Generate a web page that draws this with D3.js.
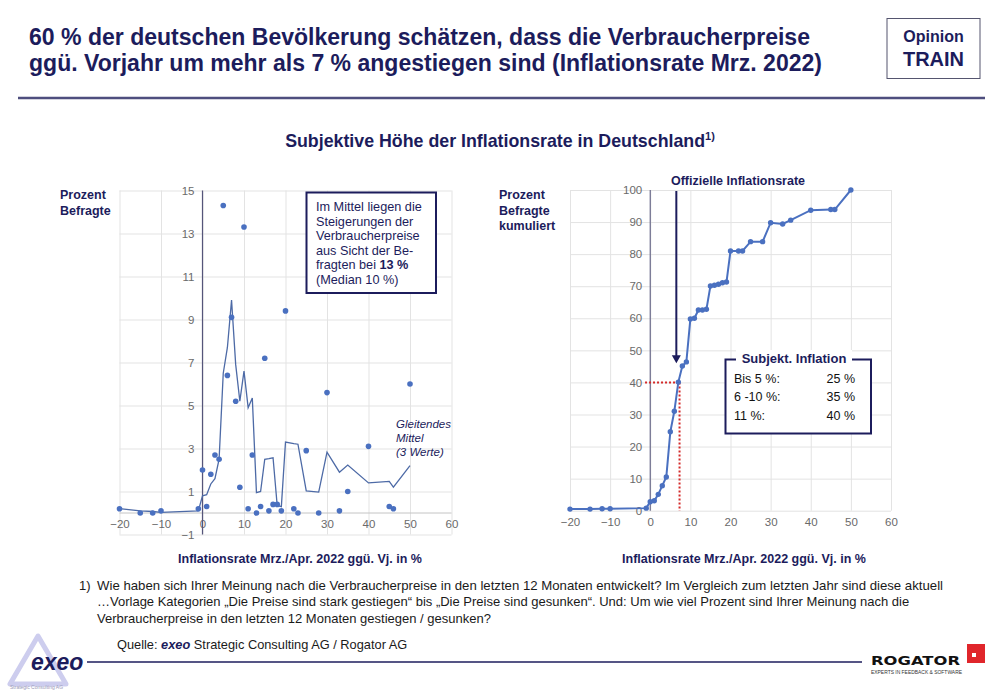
<!DOCTYPE html>
<html><head><meta charset="utf-8">
<script src="https://cdn.jsdelivr.net/npm/d3@7"></script>
<style>
html,body{margin:0;padding:0;background:#fff;}
svg{display:block;font-family:"Liberation Sans",Arial,sans-serif;}
</style></head>
<body>
<svg id="chart" width="1000" height="692"></svg>
<script>
// ---------- data ----------
const inflationX = [-20,-15,-12,-10,-1,0,1,2,3,4,5,6,7,8,9,10,11,12,13,14,15,16,17,18,19,20,22,23,25,28,30,33,35,40,45,46,50];
const shareRespondents = [0.2,0,0,0.1,0.2,2.0,0.3,1.8,2.7,2.5,14.3,6.4,9.1,5.2,1.2,13.3,0.2,2.7,0,0.3,7.2,0.1,0.4,0.4,0.1,9.4,0.2,0,2.9,0,5.6,0.1,1.0,3.1,0.3,0.2,6.0];
const movingAverage = [0.2,0.1,0.07,0.03,0.1,0.8,0.85,1.35,1.6,2.5,6.5,7.7,9.9,6.9,5.2,6.6,4.9,5.35,0.95,1.0,2.5,2.53,2.57,0.35,0.3,3.3,3.23,3.2,1.03,0.97,2.83,1.9,2.23,1.4,1.47,1.2,2.2];
const cumulativeShare = [0.5,0.5,0.6,0.6,0.8,2.8,3.1,5.1,7.8,10.5,24.6,31,40.1,45.1,46.4,59.8,60,62.6,62.6,62.8,70.1,70.3,70.6,71.1,71.3,81,81,81,83.9,83.9,89.8,89.4,90.6,93.7,93.9,93.9,100];
const xTicks = [-20,-10,0,10,20,30,40,50,60];
const leftYTicks = [-1,1,3,5,7,9,11,13,15];
const rightYTicks = [0,10,20,30,40,50,60,70,80,90,100];
const officialRate = 7.3;
const officialCumulative = 40;
const arrowX = 6.5;
const arrowTipY = 46;
const boxRows = [["Bis 5 %:","25 %"],["6 -10 %:","35 %"],["11 %:","40 %"]];
const leftNote = ["Im Mittel liegen die","Steigerungen der","Verbraucherpreise","aus Sicht der Be-","fragten bei |13 %|","(Median 10 %)"];
const footLines = [
 "Wie haben sich Ihrer Meinung nach die Verbraucherpreise in den letzten 12 Monaten entwickelt? Im Vergleich zum letzten Jahr sind diese aktuell",
 "…Vorlage Kategorien „Die Preise sind stark gestiegen“ bis „Die Preise sind gesunken“. Und: Um wie viel Prozent sind Ihrer Meinung nach die",
 "Verbraucherpreise in den letzten 12 Monaten gestiegen / gesunken?"];

// ---------- setup ----------
const NAVY = "#1c1c5c";
const BLUE = "#4a70c0";
const GRID = "#e3e3e3";
const TICK = "#6a6a6a";
const svg = d3.select("#chart");

// Header
svg.append("text").attr("x",29).attr("y",45).attr("font-size",23).attr("font-weight","bold").attr("fill",NAVY)
  .attr("textLength",781).attr("lengthAdjust","spacingAndGlyphs")
  .text("60 % der deutschen Bevölkerung schätzen, dass die Verbraucherpreise");
svg.append("text").attr("x",29).attr("y",71).attr("font-size",23).attr("font-weight","bold").attr("fill",NAVY)
  .attr("textLength",793).attr("lengthAdjust","spacingAndGlyphs")
  .text("ggü. Vorjahr um mehr als 7 % angestiegen sind (Inflationsrate Mrz. 2022)");
svg.append("rect").attr("x",887).attr("y",18.5).attr("width",93).attr("height",60).attr("fill","none").attr("stroke","#55556f").attr("stroke-width",1);
svg.append("text").attr("x",933.5).attr("y",42).attr("text-anchor","middle").attr("font-size",16).attr("font-weight","bold").attr("fill",NAVY).text("Opinion");
svg.append("text").attr("x",933.5).attr("y",66).attr("text-anchor","middle").attr("font-size",20).attr("font-weight","bold").attr("fill",NAVY).text("TRAIN");
svg.append("line").attr("x1",18).attr("x2",985).attr("y1",98).attr("y2",98).attr("stroke","#4e4e7e").attr("stroke-width",2.5);

const sub = svg.append("text").attr("x",500).attr("y",147).attr("text-anchor","middle").attr("font-size",17.8).attr("font-weight","bold").attr("fill",NAVY);
sub.append("tspan").text("Subjektive Höhe der Inflationsrate in Deutschland");
sub.append("tspan").attr("dy",-7).attr("font-size",11).text("1)");

// ---------- left chart ----------
const xL = d3.scaleLinear().domain([-20,60]).range([119.5,451.5]);
const yL = d3.scaleLinear().domain([-1,15]).range([534.5,190.5]);
const gL = svg.append("g");
gL.append("g").attr("transform",`translate(0,${yL(-1)})`)
  .call(d3.axisBottom(xL).tickValues(xTicks).tickSize(-(yL(-1)-yL(15))).tickFormat(""))
  .call(g=>{g.select(".domain").remove(); g.selectAll("line").attr("stroke",GRID);});
gL.append("g").attr("transform",`translate(${xL(-20)},0)`)
  .call(d3.axisLeft(yL).tickValues(leftYTicks).tickSize(-(xL(60)-xL(-20))).tickFormat(""))
  .call(g=>{g.select(".domain").remove(); g.selectAll("line").attr("stroke",GRID);});
gL.append("line").attr("x1",xL(-20)).attr("x2",xL(60)).attr("y1",yL(0)).attr("y2",yL(0)).attr("stroke","#c4c4c4").attr("stroke-width",1);
gL.append("g").attr("transform",`translate(0,${yL(0)})`)
  .call(d3.axisBottom(xL).tickValues(xTicks).tickSize(0).tickPadding(7))
  .call(g=>{g.select(".domain").remove(); g.selectAll("text").attr("fill",TICK).attr("font-size",11.5).attr("font-family","Liberation Sans, Arial, sans-serif");});
gL.append("line").attr("x1",xL(0)).attr("x2",xL(0)).attr("y1",yL(15)).attr("y2",yL(-1)).attr("stroke","#55557a").attr("stroke-width",1.2);
gL.append("g").attr("transform",`translate(${xL(0)},0)`)
  .call(d3.axisLeft(yL).tickValues(leftYTicks).tickSize(0).tickPadding(8))
  .call(g=>{g.select(".domain").remove(); g.selectAll("text").attr("fill",TICK).attr("font-size",11.5).attr("font-family","Liberation Sans, Arial, sans-serif");});
const lineL = d3.line().x((d,i)=>xL(inflationX[i])).y(d=>yL(d));
gL.append("path").datum(movingAverage).attr("d",lineL).attr("fill","none").attr("stroke","#4d6aa6").attr("stroke-width",1.3);
gL.selectAll("circle.pt").data(shareRespondents).join("circle").attr("class","pt")
  .attr("cx",(d,i)=>xL(inflationX[i])).attr("cy",d=>yL(d)).attr("r",2.8).attr("fill",BLUE);
svg.append("text").attr("x",60).attr("y",199).attr("font-size",12.5).attr("font-weight","bold").attr("fill",NAVY).text("Prozent");
svg.append("text").attr("x",60).attr("y",214.5).attr("font-size",12.5).attr("font-weight","bold").attr("fill",NAVY).text("Befragte");
svg.append("text").attr("x",300).attr("y",563).attr("text-anchor","middle").attr("font-size",12.5).attr("font-weight","bold").attr("fill",NAVY).text("Inflationsrate Mrz./Apr. 2022 ggü. Vj. in %");
gL.append("rect").attr("x",306.5).attr("y",192.5).attr("width",129.5).attr("height",100.5).attr("fill","#fff").attr("stroke",NAVY).attr("stroke-width",2);
leftNote.forEach((s,i)=>{
  const t = gL.append("text").attr("x",316).attr("y",211+i*14.5).attr("font-size",12.7).attr("fill",NAVY);
  s.split("|").forEach((p,j)=>t.append("tspan").attr("font-weight", j===1?"bold":"normal").text(p));
});
["Gleitendes","Mittel","(3 Werte)"].forEach((s,i)=>{
  gL.append("text").attr("x",396).attr("y",427.5+i*14.2).attr("font-size",11.5).attr("font-style","italic").attr("fill",NAVY).text(s);
});

// ---------- right chart ----------
const xR = d3.scaleLinear().domain([-20,60]).range([570,891]);
const yR = d3.scaleLinear().domain([0,100]).range([510.7,190]);
const gR = svg.append("g");
gR.append("g").attr("transform",`translate(0,${yR(0)})`)
  .call(d3.axisBottom(xR).tickValues(xTicks).tickSize(-(yR(0)-yR(100))).tickFormat(""))
  .call(g=>{g.select(".domain").remove(); g.selectAll("line").attr("stroke",GRID);});
gR.append("g").attr("transform",`translate(${xR(-20)},0)`)
  .call(d3.axisLeft(yR).tickValues(rightYTicks).tickSize(-(xR(60)-xR(-20))).tickFormat(""))
  .call(g=>{g.select(".domain").remove(); g.selectAll("line").attr("stroke",GRID);});
gR.append("g").attr("transform",`translate(0,${yR(0)})`)
  .call(d3.axisBottom(xR).tickValues(xTicks).tickSize(0).tickPadding(7))
  .call(g=>{g.select(".domain").remove(); g.selectAll("text").attr("fill",TICK).attr("font-size",11.5).attr("font-family","Liberation Sans, Arial, sans-serif");});
gR.append("line").attr("x1",xR(0)).attr("x2",xR(0)).attr("y1",yR(100)).attr("y2",yR(0)).attr("stroke","#6a6a8a").attr("stroke-width",1.2);
gR.append("g").attr("transform",`translate(${xR(0)},0)`)
  .call(d3.axisLeft(yR).tickValues(rightYTicks).tickSize(0).tickPadding(8))
  .call(g=>{g.select(".domain").remove(); g.selectAll("text").attr("fill",TICK).attr("font-size",11.5).attr("font-family","Liberation Sans, Arial, sans-serif");});
gR.append("line").attr("x1",xR(-1.3)).attr("x2",xR(officialRate)).attr("y1",yR(officialCumulative)).attr("y2",yR(officialCumulative))
  .attr("stroke","#d42a2a").attr("stroke-width",2).attr("stroke-dasharray","2,2");
gR.append("line").attr("x1",xR(officialRate)).attr("x2",xR(officialRate)).attr("y1",yR(officialCumulative)).attr("y2",yR(0))
  .attr("stroke","#d42a2a").attr("stroke-width",2).attr("stroke-dasharray","2,2");
const lineR = d3.line().x((d,i)=>xR(inflationX[i])).y(d=>yR(d));
gR.append("path").datum(cumulativeShare).attr("d",lineR).attr("fill","none").attr("stroke",BLUE).attr("stroke-width",2);
gR.selectAll("circle.pt").data(cumulativeShare).join("circle").attr("class","pt")
  .attr("cx",(d,i)=>xR(inflationX[i])).attr("cy",d=>yR(d)).attr("r",2.7).attr("fill",BLUE);
const ax = xR(arrowX), tipY = yR(arrowTipY);
gR.append("line").attr("x1",ax).attr("x2",ax).attr("y1",yR(100)+1).attr("y2",tipY-6).attr("stroke",NAVY).attr("stroke-width",2);
gR.append("path").attr("d",`M${ax-4.5},${tipY-8}L${ax+4.5},${tipY-8}L${ax},${tipY}Z`).attr("fill",NAVY);
svg.append("text").attr("x",738).attr("y",184.5).attr("text-anchor","middle").attr("font-size",12.5).attr("font-weight","bold").attr("fill",NAVY).text("Offizielle Inflationsrate");
gR.append("rect").attr("x",725.5).attr("y",359.5).attr("width",145.5).attr("height",74).attr("fill","#fff").attr("stroke",NAVY).attr("stroke-width",2);
gR.append("rect").attr("x",736).attr("y",350).attr("width",116).attr("height",16).attr("fill","#fff");
gR.append("text").attr("x",794).attr("y",362.5).attr("text-anchor","middle").attr("font-size",13).attr("font-weight","bold").attr("fill",NAVY).text("Subjekt. Inflation");
boxRows.forEach((r,i)=>{
  gR.append("text").attr("x",734).attr("y",382.5+i*18.5).attr("font-size",12.5).attr("fill","#111").text(r[0]);
  gR.append("text").attr("x",855).attr("y",382.5+i*18.5).attr("text-anchor","end").attr("font-size",12.5).attr("fill","#111").text(r[1]);
});
svg.append("text").attr("x",499).attr("y",199).attr("font-size",12.5).attr("font-weight","bold").attr("fill",NAVY).text("Prozent");
svg.append("text").attr("x",499).attr("y",214.5).attr("font-size",12.5).attr("font-weight","bold").attr("fill",NAVY).text("Befragte");
svg.append("text").attr("x",499).attr("y",230).attr("font-size",12.5).attr("font-weight","bold").attr("fill",NAVY).text("kumuliert");
svg.append("text").attr("x",744).attr("y",563).attr("text-anchor","middle").attr("font-size",12.5).attr("font-weight","bold").attr("fill",NAVY).text("Inflationsrate Mrz./Apr. 2022 ggü. Vj. in %");

// ---------- footnote ----------
svg.append("text").attr("x",79).attr("y",589.5).attr("font-size",13).attr("fill","#1a1a1a").text("1)");
footLines.forEach((s,i)=>{
  svg.append("text").attr("x",97).attr("y",589.5+i*16.5).attr("font-size",13).attr("fill","#1a1a1a")
    .attr("textLength", i===0 ? 846 : null).attr("lengthAdjust","spacingAndGlyphs").text(s);
});
const q = svg.append("text").attr("x",117).attr("y",649).attr("font-size",12.8).attr("fill","#1a1a1a");
q.append("tspan").text("Quelle: ");
q.append("tspan").attr("font-weight","bold").attr("font-style","italic").attr("fill",NAVY).text("exeo");
q.append("tspan").text(" Strategic Consulting AG / Rogator AG");

// ---------- logos ----------
svg.append("path").attr("d","M38,636L10,684L66,684Z").attr("fill","none").attr("stroke","#cdcdee").attr("stroke-width",5).attr("stroke-linejoin","round");
svg.append("text").attr("x",31).attr("y",670).attr("font-size",23).attr("font-weight","bold").attr("font-style","italic").attr("fill",NAVY).text("exeo");
svg.append("text").attr("x",10).attr("y",689).attr("font-size",5).attr("fill","#9a9ab8").text("Strategic Consulting AG");
svg.append("line").attr("x1",87).attr("x2",862).attr("y1",662).attr("y2",662).attr("stroke",NAVY).attr("stroke-width",1.5);
svg.append("text").attr("x",871).attr("y",665).attr("font-size",13).attr("font-weight","bold").attr("fill","#111")
  .attr("font-family","DejaVu Sans, sans-serif").attr("textLength",89).attr("lengthAdjust","spacingAndGlyphs").text("ROGATOR");
svg.append("rect").attr("x",967).attr("y",644).attr("width",18).attr("height",19).attr("fill","#e0262b");
svg.append("rect").attr("x",972).attr("y",653).attr("width",4).attr("height",4).attr("fill","#fff");
svg.append("text").attr("x",871).attr("y",674).attr("font-size",5.5).attr("fill","#333").attr("textLength",91).attr("lengthAdjust","spacingAndGlyphs").text("EXPERTS IN FEEDBACK & SOFTWARE");
</script>
</body></html>
